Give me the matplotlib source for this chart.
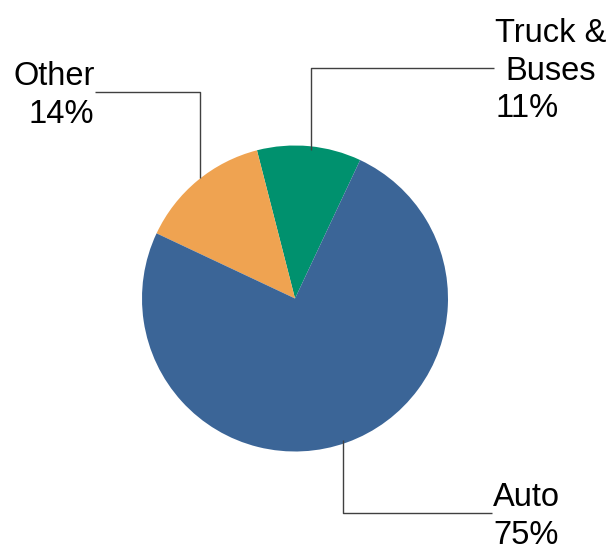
import matplotlib
matplotlib.use("Agg")
import matplotlib.pyplot as plt

categories = ["Truck &\nBuses", "Other", "Auto"]
values = [11, 14, 75]
colors = ["#00916E", "#EFA351", "#3B6597"]

plt.rcParams['font.family'] = ['Liberation Sans', 'DejaVu Sans']

W, H = 612, 544
fig = plt.figure(figsize=(W / 100, H / 100), dpi=100)
ax = fig.add_axes([0, 0, 1, 1])
ax.set_xlim(0, W)
ax.set_ylim(0, H)
ax.set_aspect('equal')
ax.axis('off')

cx, cy, r = 295, H - 298.5, 153
ax.pie(values, colors=colors, startangle=64.8, counterclock=True,
       center=(cx, cy), radius=r, frame=True)
ax.set_xlim(0, W)
ax.set_ylim(0, H)
ax.axis('off')

lc = '#404040'
lw = 1.0
fs = 23.5

def Y(y):
    return H - y

# Other
ax.plot([95, 200, 200], [Y(92), Y(92), Y(178)], color=lc, lw=lw, solid_capstyle='butt')
ax.text(95, Y(85), "Other", ha='right', va='baseline', fontsize=fs)
ax.text(94, Y(123), f"{values[1]}%", ha='right', va='baseline', fontsize=fs)

# Truck & Buses
ax.plot([494, 311, 311], [Y(68), Y(68), Y(150)], color=lc, lw=lw, solid_capstyle='butt')
ax.text(551, Y(42), "Truck &", ha='center', va='baseline', fontsize=fs)
ax.text(551, Y(80), "Buses", ha='center', va='baseline', fontsize=fs)
ax.text(495, Y(117), f"{values[0]}%", ha='left', va='baseline', fontsize=fs)

# Auto
ax.plot([343, 343, 492], [Y(440), Y(513), Y(513)], color=lc, lw=lw, solid_capstyle='butt')
ax.text(493, Y(506), "Auto", ha='left', va='baseline', fontsize=fs)
ax.text(493, Y(544), f"{values[2]}%", ha='left', va='baseline', fontsize=fs)

fig.savefig("out.png", dpi=100)
